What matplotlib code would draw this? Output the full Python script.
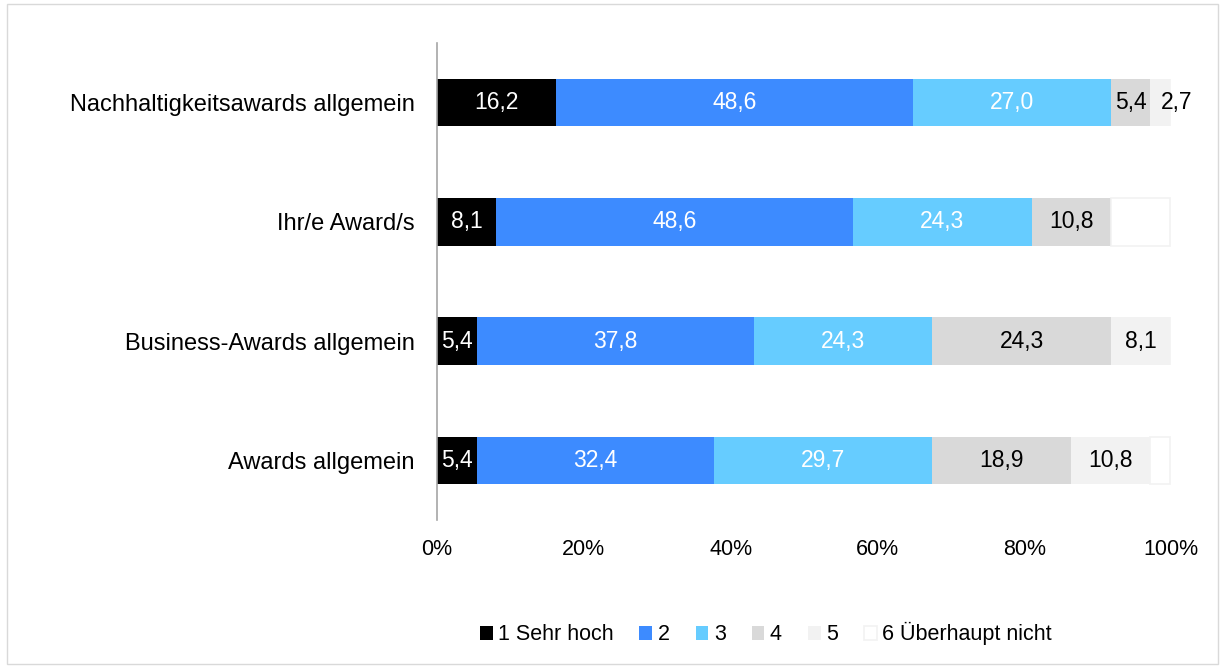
import matplotlib
matplotlib.use("Agg")
import matplotlib.pyplot as plt
from matplotlib.patches import Rectangle
import numpy as np

categories = ["Nachhaltigkeitsawards allgemein", "Ihr/e Award/s",
              "Business-Awards allgemein", "Awards allgemein"]
series_names = ["1 Sehr hoch", "2", "3", "4", "5", "6 Überhaupt nicht"]
values = [
    [16.2, 8.1, 5.4, 5.4],
    [48.6, 48.6, 37.8, 32.4],
    [27.0, 24.3, 24.3, 29.7],
    [5.4, 10.8, 24.3, 18.9],
    [2.7, 0.0, 8.1, 10.8],
    [0.0, 8.1, 0.0, 2.7],
]
colors = ["#000000", "#3D8BFF", "#66CCFF", "#D9D9D9", "#F2F2F2", "#FFFFFF"]
edges = ["none", "none", "none", "none", "none", "#F2F2F2"]
text_colors = ["white", "white", "white", "black", "black", None]
xticks = [0, 20, 40, 60, 80, 100]

fig = plt.figure(figsize=(12.25, 6.68), dpi=100)
fig.patches.append(Rectangle((0.006, 0.006), 0.988, 0.988, transform=fig.transFigure,
                             fill=False, edgecolor="#D9D9D9", linewidth=1))
ax = fig.add_axes([0.3567, 0.2216, 0.5992, 0.714])

y = np.arange(len(categories))
left = np.zeros(len(categories))
for i, (name, vals) in enumerate(zip(series_names, values)):
    vals = np.array(vals)
    ax.barh(y, vals, left=left, height=0.4, color=colors[i], edgecolor=edges[i],
            linewidth=1.2 if edges[i] != "none" else 0, label=name, zorder=2)
    if text_colors[i] is not None:
        for j, v in enumerate(vals):
            if v <= 0:
                continue
            cx = left[j] + v / 2
            if v < 4:
                cx += 2.2
            ax.text(cx, y[j], f"{v:.1f}".replace(".", ","), ha="center", va="center",
                    color=text_colors[i], fontsize=16.5, family="Liberation Sans", zorder=3)
    left += vals

ax.set_xlim(0, 100)
ax.set_ylim(3.5, -0.5)
ax.set_yticks(y)
ax.set_yticklabels(categories, fontsize=17, family="Liberation Sans")
ax.set_xticks(xticks)
ax.set_xticklabels([f"{t}%" for t in xticks], fontsize=15.5, family="Liberation Sans")
for s in ["top", "right", "bottom"]:
    ax.spines[s].set_visible(False)
ax.spines["left"].set_color("#A6A6A6")
ax.spines["left"].set_linewidth(1.2)
ax.tick_params(axis="both", length=0)
ax.tick_params(axis="x", pad=14)
ax.tick_params(axis="y", pad=16)

handles, labels = ax.get_legend_handles_labels()
leg = fig.legend(handles, labels, loc="center", bbox_to_anchor=(0.625, 0.051), ncol=6,
                 frameon=False, prop={"family": "Liberation Sans", "size": 15.5},
                 handlelength=0.6, handleheight=0.6, handletextpad=0.25, columnspacing=1.2)

fig.savefig("out.png", dpi=100)
